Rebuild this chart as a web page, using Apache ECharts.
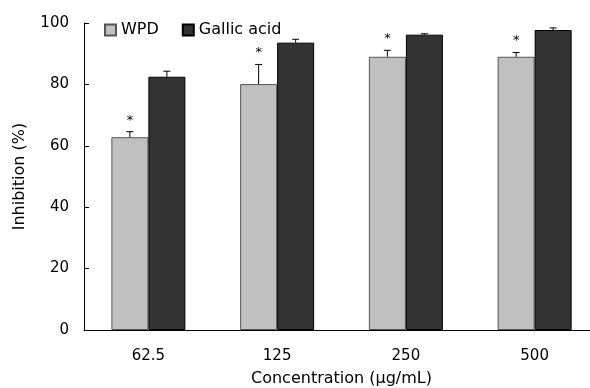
<!DOCTYPE html>
<html>
<head>
<meta charset="utf-8">
<script src="https://cdn.jsdelivr.net/npm/echarts@6/dist/echarts.min.js"></script>
<style>
  html, body { margin: 0; padding: 0; background: #fff; }
  #chart { width: 590px; height: 388px; }
</style>
</head>
<body>
<div id="chart"></div>
<script>
// 浓度分组
const categories = ['62.5', '125', '250', '500']
// 抑制率均值
const wpdValues = [62.8, 80.1, 89.0, 89.0]
const gallicValues = [82.5, 93.6, 96.2, 97.7]
// 误差(仅上侧)
const wpdErrors = [1.8, 6.4, 2.1, 1.4]
const gallicErrors = [1.8, 1.1, 0.3, 0.7]
// 显著性标记
const wpdMarks = ['*', '*', '*', '*']
const yTicks = [0, 20, 40, 60, 80, 100]

const BAR_W = 37
const FONT = '"DejaVu Sans", sans-serif'

// 误差线 + 星号
function errorSeries(values, errors, marks, side) {
    return {
        type: 'custom',
        silent: true,
        z: 5,
        data: values.map((v, i) => [i, v, errors[i]]),
        renderItem(params, api) {
            let idx = api.value(0)
            let base = api.coord([idx, api.value(1)])
            let top = api.coord([idx, api.value(1) + api.value(2)])
            let x = base[0] + side * BAR_W / 2
            let children = [
                { type: 'line', shape: { x1: x, y1: base[1], x2: x, y2: top[1] }, style: { stroke: '#000', lineWidth: 1 } },
                { type: 'line', shape: { x1: x - 3.5, y1: top[1], x2: x + 3.5, y2: top[1] }, style: { stroke: '#000', lineWidth: 1 } }
            ]
            if (marks && marks[idx]) {
                children.push({
                    type: 'text',
                    style: { text: marks[idx], x: x, y: top[1] - 5, align: 'center', verticalAlign: 'bottom', font: '13px ' + FONT, fill: '#000' }
                })
            }
            return { type: 'group', children }
        }
    }
}

let chart = echarts.init(document.getElementById('chart'))
chart.setOption({
    animation: false,
    backgroundColor: '#fff',
    grid: { left: 84, top: 23, width: 515, height: 307, outerBoundsMode: 'none', containLabel: false },
    legend: {
        left: 99,
        top: 17,
        icon: 'rect',
        itemWidth: 11,
        itemHeight: 11,
        itemGap: 23,
        textStyle: { fontFamily: FONT, fontSize: 16, color: '#000' },
        data: ['WPD', 'Gallic acid']
    },
    xAxis: {
        type: 'category',
        data: categories,
        name: 'Concentration (µg/mL)',
        nameLocation: 'middle',
        nameGap: 41,
        nameTextStyle: { fontFamily: FONT, fontSize: 16, color: '#000' },
        axisLine: { lineStyle: { color: '#000', width: 1 } },
        axisTick: { inside: true, length: 5, lineStyle: { color: '#000' } },
        axisLabel: { fontFamily: FONT, fontSize: 15, color: '#000', margin: 19 }
    },
    yAxis: {
        type: 'value',
        min: yTicks[0],
        max: yTicks[yTicks.length - 1],
        interval: 20,
        name: 'Inhibition (%)',
        nameLocation: 'middle',
        nameGap: 56,
        nameTextStyle: { fontFamily: FONT, fontSize: 16, color: '#000' },
        axisLine: { show: true, lineStyle: { color: '#000', width: 1 } },
        axisTick: { show: true, inside: true, length: 5, lineStyle: { color: '#000' } },
        axisLabel: { fontFamily: FONT, fontSize: 15, color: '#000', margin: 15 },
        splitLine: { show: false }
    },
    series: [
        {
            name: 'WPD',
            type: 'bar',
            data: wpdValues,
            barWidth: BAR_W,
            barGap: '0%',
            itemStyle: { color: '#c0c0c0', borderColor: '#555', borderWidth: 1 }
        },
        {
            name: 'Gallic acid',
            type: 'bar',
            data: gallicValues,
            barWidth: BAR_W,
            barGap: '0%',
            itemStyle: { color: '#333333', borderColor: '#000', borderWidth: 1 }
        },
        errorSeries(wpdValues, wpdErrors, wpdMarks, -1),
        errorSeries(gallicValues, gallicErrors, null, 1)
    ]
})
</script>
</body>
</html>
